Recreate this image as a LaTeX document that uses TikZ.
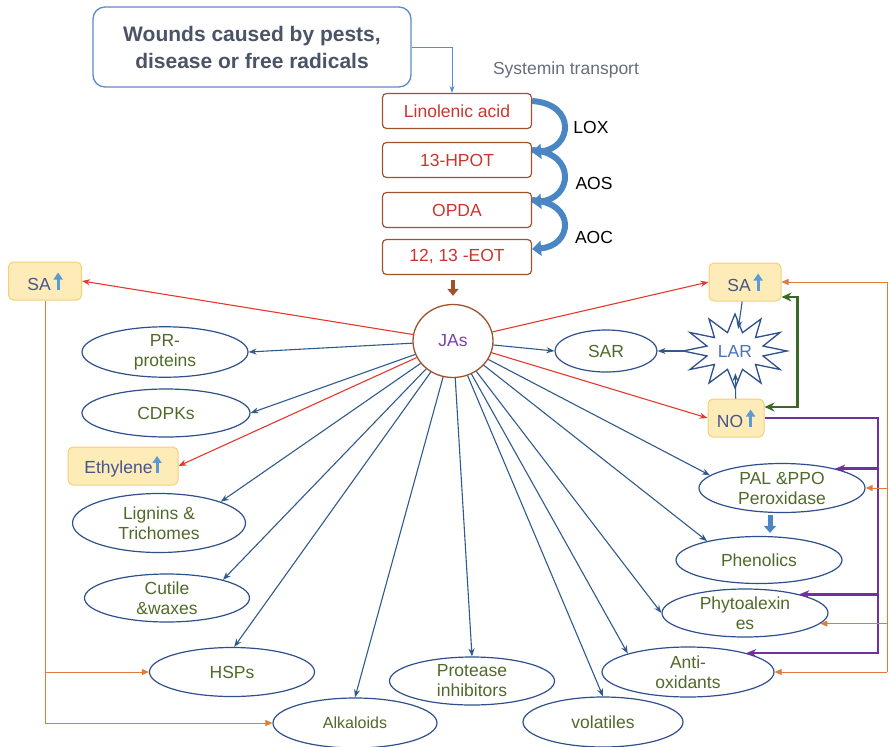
\documentclass[tikz,border=0pt]{standalone}
\usepackage{fontspec}
\setmainfont{Liberation Sans}
\usetikzlibrary{shapes.geometric,arrows.meta}
\definecolor{ebox}{HTML}{5B8AC6}
\definecolor{etext}{HTML}{4A5466}
\definecolor{brn}{HTML}{A0522D}
\definecolor{redt}{HTML}{C8372D}
\definecolor{bendc}{HTML}{4A86C4}
\definecolor{ylw}{HTML}{FDECB8}
\definecolor{ylwd}{HTML}{F3CF78}
\definecolor{sat}{HTML}{45558C}
\definecolor{upc}{HTML}{5B9BD5}
\definecolor{ell}{HTML}{2E4F8C}
\definecolor{grt}{HTML}{4F6A28}
\definecolor{jarr}{HTML}{2F5A8C}
\definecolor{redl}{HTML}{E5382C}
\definecolor{orl}{HTML}{E07B3C}
\definecolor{grl}{HTML}{3B6A26}
\definecolor{pul}{HTML}{7030A0}
\definecolor{jast}{HTML}{7B3FA5}
\definecolor{lart}{HTML}{4A72B8}
\newcommand\upar{\tikz[baseline=-1pt]\draw[upc,line width=3pt,-{Triangle[width=9pt,length=7pt]}] (0pt,0pt) -- (0pt,17pt);}

\begin{document}
\begin{tikzpicture}[x=1pt,y=-1pt,
  redbox/.style={draw=brn,line width=1.2pt,rounded corners=4pt,minimum width=149pt,minimum height=35pt,text=redt,font=\fontsize{17.5}{20}\selectfont},
  ylwbox/.style={draw=ylwd,fill=ylw,line width=1pt,rounded corners=5pt,minimum height=38pt,text=sat,inner sep=2pt,font=\fontsize{17.5}{20}\selectfont},
  oval/.style={ellipse,draw=ell,line width=1.2pt,minimum width=166pt,minimum height=48pt,inner sep=0pt,align=center,text=grt,font=\fontsize{17.5}{20}\selectfont},
  jarrow/.style={jarr,line width=1.1pt,-{Stealth[length=8pt,width=6pt]}},
  rarrow/.style={redl,line width=1.1pt,-{Stealth[length=8pt,width=6pt]}},
  oarrow/.style={orl,line width=0.9pt,-{Triangle[length=7pt,width=6pt]}},
  parrow/.style={pul,line width=2.4pt,-{Stealth[length=10pt,width=8pt]}},
  curvarr/.style={bendc,line width=6pt,-{Triangle[length=9pt,width=15pt]}},
  lbl/.style={font=\fontsize{17.5}{20}\selectfont}]
  \useasboundingbox (0,0) rectangle (889,747);
  % top: wound and the JA pathway
  \node[draw=ebox,line width=1.3pt,rounded corners=12pt,minimum width=318pt,minimum height=80pt,align=center,text=etext,font=\bfseries\fontsize{21}{27}\selectfont] (wound) at (252,47) {Wounds caused by pests,\\disease or free radicals};
  \node[text=etext!85,lbl] (syst) at (566,70) {Systemin transport};
  \node[redbox] (lin) at (457,111) {Linolenic acid};
  \node[redbox] (hpot) at (457,160) {13-HPOT};
  \node[redbox] (opda) at (457,210) {OPDA};
  \node[redbox] (eot) at (457,257) {12, 13 -EOT};
  \node[lbl] (lox) at (591,127) {LOX};
  \node[lbl] (aos) at (594,183) {AOS};
  \node[lbl] (aoc) at (594,237) {AOC};
  \draw[ebox,line width=1pt,-{Stealth[length=7pt,width=5pt]}] (wound.east) -| ([xshift=-5pt]lin.north);
  \draw[curvarr] ([yshift=10pt]lin.east) .. controls +(45,3) and +(40,-3) .. ([yshift=8pt]hpot.east);
  \draw[curvarr] ([yshift=10pt]hpot.east) .. controls +(45,3) and +(40,-3) .. ([yshift=8pt]opda.east);
  \draw[curvarr] ([yshift=10pt]opda.east) .. controls +(45,3) and +(40,-3) .. ([yshift=8pt]eot.east);
  % JAs hub
  \node[ellipse,draw=brn,line width=1.3pt,minimum width=80pt,minimum height=73pt,text=jast,lbl] (jas) at (453,341) {JAs};
  \draw[brn,line width=4pt,-{Triangle[length=7pt,width=11pt]},shorten <=5pt,shorten >=8pt] (eot.south -| jas.north) -- (jas.north);
  % signals
  \node[ylwbox,minimum width=73pt] (saL) at (45,281) {SA\,\upar};
  \node[ylwbox,minimum width=72pt] (saR) at (745,282) {SA\,\upar};
  \node[ylwbox,minimum width=56pt] (no) at (736,418) {NO\,\upar};
  \node[ylwbox,minimum width=110pt] (eth) at (123,466) {Ethylene\upar};
  \node[ellipse,minimum width=95pt,minimum height=44pt,text=lart,lbl] (lar) at (735,351) {LAR};
  \begin{scope}[shift={(lar.center)}]
    \draw[ell,line width=1.3pt] plot[samples at={0,15,...,345}]
      (\x:{ifthenelse(mod(\x,30)==0,52,29)} and {ifthenelse(mod(\x,30)==0,37,19)}) -- cycle;
  \end{scope}
  % responses
  \node[oval,minimum width=102pt,minimum height=42pt] (sar) at (606,351) {SAR};
  \node[oval] (pr) at (165,352) {PR-\\proteins};
  \node[oval,minimum width=168pt] (cdpk) at (166,413) {CDPKs};
  \node[oval,minimum width=173pt,minimum height=59pt] (lign) at (159,523) {Lignins \&\\Trichomes};
  \node[oval,minimum width=165pt] (cut) at (167,598) {Cutile\\\&waxes};
  \node[oval,minimum width=165pt,minimum height=49pt] (hsp) at (232,672) {HSPs};
  \node[oval,minimum width=164pt,minimum height=50pt,font=\fontsize{16}{19}\selectfont] (alk) at (355,723) {Alkaloids};
  \node[oval,minimum width=165pt] (prot) at (472,681) {Protease\\inhibitors};
  \node[oval,minimum width=160pt,minimum height=50pt] (vol) at (603,722) {volatiles};
  \node[oval,minimum width=172pt,minimum height=50pt] (anti) at (688,672) {Anti-\\oxidants};
  \node[oval] (phy) at (745,613) {Phytoalexin\\es};
  \node[oval,minimum height=47pt] (phe) at (759,560) {Phenolics};
  \node[oval,minimum height=49pt] (pal) at (782,488) {PAL \&PPO\\Peroxidase};
  % JAs -> responses
  \foreach \t in {pr.east,cdpk.east,lign.19,cut.18,hsp.85,alk.north,prot.north,vol.north,anti.163,phy.west,phe.160,pal.170,sar.west}
    \draw[jarrow] (jas) -- (\t);
  \foreach \t in {saL.east,saR.west,eth.east,no.west}
    \draw[rarrow] (jas) -- (\t);
  \draw[jarrow] (saR) -- (lar);
  \draw[jarrow] (no) -- (lar);
  \draw[jarrow] (lar) -- (sar);
  \draw[bendc,line width=5pt,-{Triangle[length=7pt,width=12pt]},shorten <=2pt,shorten >=3pt] ([xshift=-12pt]pal.south) -- ([xshift=-12pt]pal.south |- phe.north);
  % SA/NO loop
  \draw[grl,line width=2.6pt,{Stealth[length=10pt,width=9pt]}-{Stealth[length=10pt,width=9pt]}] ([yshift=-15pt]saR.east) -| ([xshift=33pt,yshift=11pt]no.east) -- ([yshift=11pt]no.east);
  \coordinate (pv) at (878,418);
  \draw[parrow] (no.east) -- (pv) |- (anti.18);
  \draw[parrow] (pv |- pal.20) -- (pal.20);
  \draw[parrow] (pv |- phy.19) -- (phy.19);
  % SA feedback lines
  \coordinate (ortop) at (887,282);
  \coordinate (orbot) at (887,672);
  \draw[oarrow] (orbot) -- (ortop) -- (saR.east);
  \draw[oarrow] (ortop |- pal.east) -- (pal.east);
  \draw[oarrow] (ortop |- phy.-8) -- (phy.-8);
  \draw[oarrow] (orbot) -- (anti.east);
  \draw[oarrow] (saL.south) |- (alk.west);
  \draw[oarrow] (saL.south |- hsp.west) -- (hsp.west);
\end{tikzpicture}
\end{document}
